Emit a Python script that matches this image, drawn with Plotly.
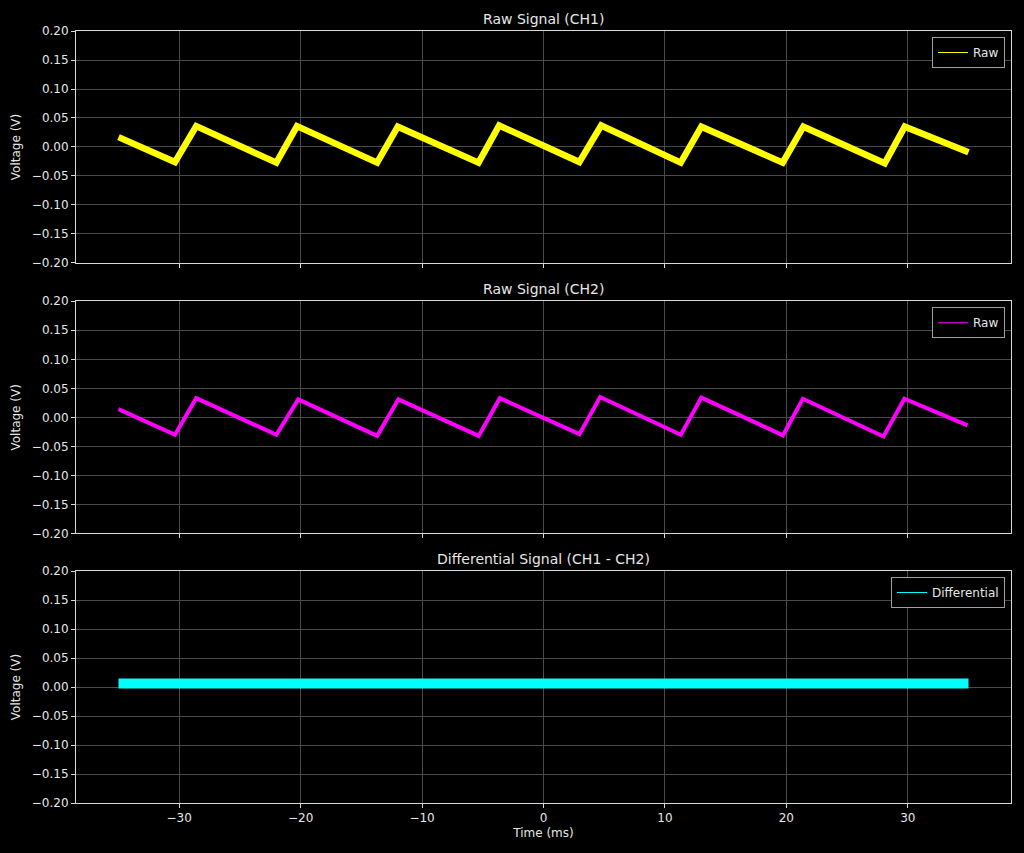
import plotly.graph_objects as go

# ---- data ----
ch1_t = [-35.0, -30.35, -28.6, -22.0, -20.3, -13.7, -12.0, -5.35, -3.65,
         2.95, 4.75, 11.3, 13.0, 19.7, 21.4, 28.1, 29.75, 35.0]
ch1_v = [0.017, -0.026, 0.036, -0.027, 0.036, -0.027, 0.035, -0.027, 0.037,
         -0.026, 0.037, -0.027, 0.035, -0.027, 0.035, -0.028, 0.035, -0.009]

ch2_t = [-35.0, -30.35, -28.6, -22.0, -20.2, -13.7, -11.95, -5.34, -3.6,
         2.96, 4.66, 11.31, 13.0, 19.72, 21.36, 28.0, 29.72, 34.92]
ch2_v = [0.014, -0.030, 0.033, -0.030, 0.031, -0.032, 0.031, -0.032, 0.033,
         -0.029, 0.035, -0.030, 0.034, -0.031, 0.032, -0.033, 0.032, -0.014]

diff_t = [-35.0, -30.0, -25.0, -21.0, -20.0, -15.0, -10.0, -5.0, 0.0,
          5.0, 10.0, 15.0, 20.0, 25.0, 30.0, 35.0]
diff_v = [0.006, 0.006, 0.006, 0.004, 0.006, 0.006, 0.006, 0.006, 0.006,
          0.006, 0.005, 0.006, 0.006, 0.006, 0.006, 0.006]

titles = ["Raw Signal (CH1)", "Raw Signal (CH2)", "Differential Signal (CH1 - CH2)"]
legend_names = ["Raw", "Raw", "Differential"]
colors = ["#ffff00", "#ff00ff", "#00ffff"]
y_ticks = [-0.20, -0.15, -0.10, -0.05, 0.00, 0.05, 0.10, 0.15, 0.20]
x_ticks = [-30, -20, -10, 0, 10, 20, 30]

FONT = "DejaVu Sans"
TXT = "#e6e6e6"
GRID = "#4a4a4a"
SPINE = "#d9d9d9"

# plot area in pixels: x 76..1011, y 31..803
W, H = 1024, 853
domains = [[0.6995, 1.0], [0.3493, 0.6499], [0.0, 0.3005]]

fig = go.Figure()
series = [(ch1_t, ch1_v, 6.5), (ch2_t, ch2_v, 4), (diff_t, diff_v, 10)]
legend_ids = ["legend", "legend2", "legend3"]
for i, ((t, v, w), col) in enumerate(zip(series, colors)):
    xa = "x" if i == 0 else f"x{i+1}"
    ya = "y" if i == 0 else f"y{i+1}"
    fig.add_trace(go.Scatter(x=t, y=v, mode="lines", xaxis=xa, yaxis=ya,
                             line=dict(color=col, width=w),
                             showlegend=False, hoverinfo="skip"))
    fig.add_trace(go.Scatter(x=[None], y=[None], mode="lines", xaxis=xa, yaxis=ya,
                             line=dict(color=col, width=1),
                             name=legend_names[i], legend=legend_ids[i],
                             showlegend=True))

layout = dict(
    width=W, height=H,
    paper_bgcolor="black", plot_bgcolor="black",
    font=dict(family=FONT, color=TXT, size=12),
    margin=dict(l=76, r=13, t=31, b=50),
    annotations=[],
)

for i in range(3):
    sx = "" if i == 0 else str(i + 1)
    layout["xaxis" + sx] = dict(
        domain=[0, 1], anchor="y" + sx, range=[-38.5, 38.5],
        tickvals=x_ticks, ticks="outside", ticklen=4, tickcolor=SPINE,
        showticklabels=(i == 2), showgrid=True, gridcolor=GRID, gridwidth=1,
        showline=True, linecolor=SPINE, linewidth=1, mirror=True,
        zeroline=False, tickfont=dict(size=12, color=TXT),
        matches=None if i == 0 else "x",
        title=dict(text="Time (ms)", font=dict(size=12, color=TXT), standoff=4) if i == 2 else None,
    )
    layout["yaxis" + sx] = dict(
        domain=domains[i], anchor="x" + sx, range=[-0.2, 0.2],
        tickvals=y_ticks, tickformat=".2f", ticks="outside", ticklen=4, tickcolor=SPINE,
        showgrid=True, gridcolor=GRID, gridwidth=1,
        showline=True, linecolor=SPINE, linewidth=1, mirror=True,
        zeroline=False, tickfont=dict(size=12, color=TXT),
        title=dict(text="Voltage (V)", font=dict(size=12, color=TXT), standoff=8),
    )
    layout["annotations"].append(dict(
        text=titles[i], xref="paper", yref="paper", x=0.5, y=domains[i][1],
        xanchor="center", yanchor="middle", yshift=12, showarrow=False,
        font=dict(size=14, color=TXT, family=FONT)))
    leg = dict(
        x=0.9936, y=domains[i][1] - 6 / 772, xanchor="right", yanchor="top",
        bgcolor="black", bordercolor="#a0a0a0", borderwidth=1,
        font=dict(size=12, color=TXT, family=FONT),
    )
    layout[legend_ids[i]] = leg

fig.update_layout(**layout)
fig.write_html("out.html", config={"displayModeBar": False},
               post_script="document.body.style.margin='0';document.body.style.background='black';")
